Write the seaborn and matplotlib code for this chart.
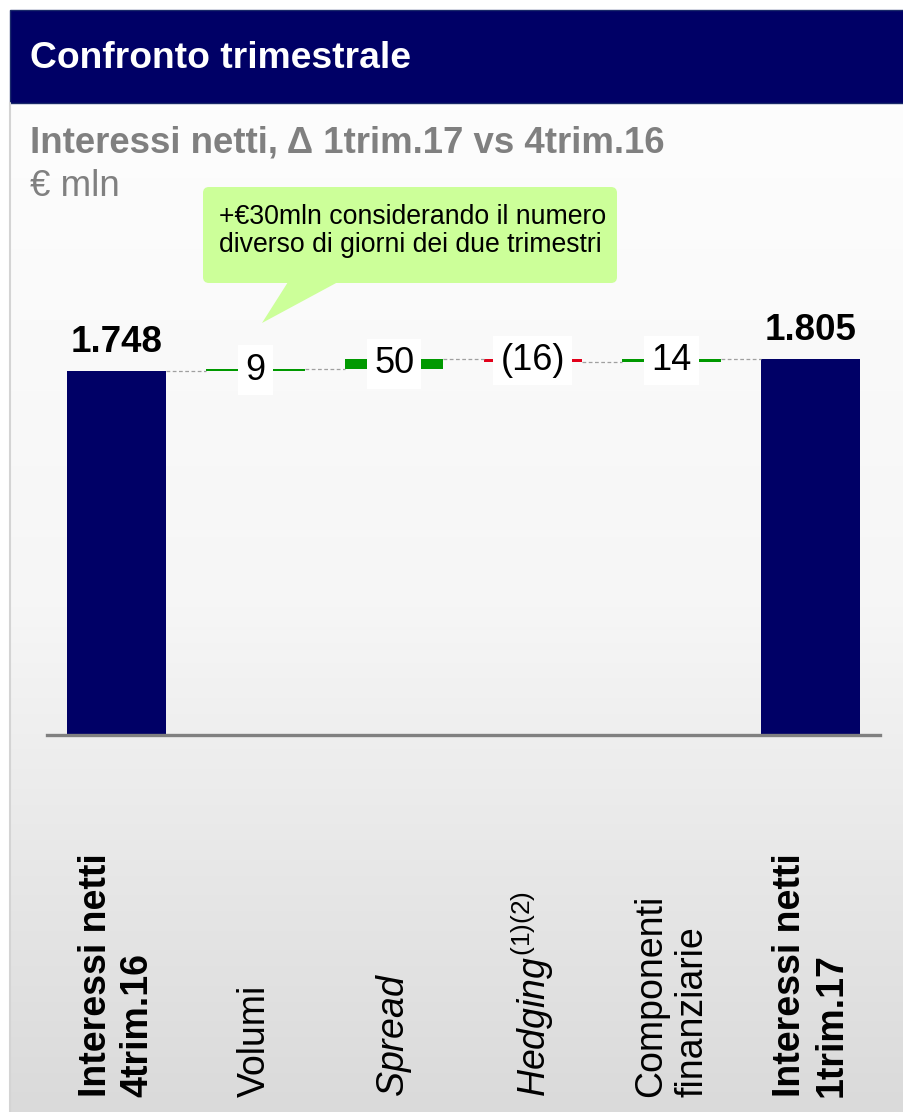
import numpy as np
import pandas as pd
import matplotlib
matplotlib.use("Agg")
import matplotlib.pyplot as plt
import seaborn as sns
from matplotlib.patches import Rectangle, FancyBboxPatch, Polygon
from matplotlib.transforms import blended_transform_factory

# ---- data -------------------------------------------------------------
categories = ["Interessi netti 4trim.16", "Volumi", "Spread", "Hedging",
              "Componenti finanziarie", "Interessi netti 1trim.17"]
tick_labels = ["Interessi netti\n4trim.16", "Volumi", r"$\mathit{Spread}$",
               r"$\mathit{Hedging}^{(1)(2)}$", "Componenti\nfinanziarie",
               "Interessi netti\n1trim.17"]
values = [1748, 9, 50, -16, 14, 1805]
kinds = ["total", "delta", "delta", "delta", "delta", "total"]
value_labels = ["1.748", "9", "50", "(16)", "14", "1.805"]
note_text = "+€30mln considerando il numero\ndiverso di giorni dei due trimestri"

NAVY = "#000066"
GREEN = "#009900"
RED = "#e2001a"
GREY = "#808080"

# ---- waterfall geometry ------------------------------------------------
bottoms, heights, levels = [], [], []
running = 0
for v, k in zip(values, kinds):
    if k == "total":
        bottoms.append(0)
        heights.append(v)
        running = v
    else:
        bottoms.append(running)
        heights.append(v)
        running += v
    levels.append(running)

colors = [NAVY if k == "total" else (GREEN if v >= 0 else RED)
          for v, k in zip(values, kinds)]
df = pd.DataFrame({"category": categories, "height": heights})

# ---- style -------------------------------------------------------------
sns.set_style("white")
plt.rcParams["font.family"] = ["Liberation Sans", "DejaVu Sans"]
plt.rcParams["mathtext.fontset"] = "custom"
plt.rcParams["mathtext.rm"] = "Liberation Sans"
plt.rcParams["mathtext.it"] = "Liberation Sans:italic"
plt.rcParams["mathtext.bf"] = "Liberation Sans:bold"

W, H = 904, 1112
fig = plt.figure(figsize=(W / 100, H / 100), dpi=100)
fig.patch.set_facecolor("white")

# background layer in pixel coordinates
bg = fig.add_axes([0, 0, 1, 1], zorder=0)
bg.set_xlim(0, W)
bg.set_ylim(H, 0)
bg.axis("off")
grad = np.linspace(0, 1, 256).reshape(-1, 1)
cmap = matplotlib.colors.LinearSegmentedColormap.from_list("panel", ["#fdfdfd", "#f6f6f6", "#dadada"])
bg.imshow(grad, cmap=cmap, extent=(10, W, H, 103), aspect="auto", zorder=0)
bg.add_patch(Rectangle((10, 10), W - 10, 93, facecolor=NAVY, edgecolor="#1a2a6a", lw=1, zorder=1))
bg.plot([10.5, 10.5], [103, H], color="#d4d4d4", lw=1.5, zorder=1)
bg.text(30, 58, "Confronto trimestrale", color="white", fontsize=26.8,
        fontweight="bold", va="center", ha="left")
bg.text(30, 143, "Interessi netti, Δ 1trim.17 vs 4trim.16", color=GREY,
        fontsize=26.4, fontweight="bold", va="center", ha="left")
bg.text(30, 187, "€ mln", color=GREY, fontsize=26.5, va="center", ha="left")

# ---- chart axes ----------------------------------------------------------
base_px, top_px = 735, 200
left_px, right_px = 47, 880
px_per_unit = (735 - 371) / 1748
ax = fig.add_axes([left_px / W, (H - base_px) / H,
                   (right_px - left_px) / W, (base_px - top_px) / H], zorder=2)
ax.patch.set_alpha(0)

bar_w = 0.71
sns.barplot(data=df, x="category", y="height", order=categories,
            bottom=bottoms, width=bar_w, color=NAVY, errorbar=None,
            linewidth=0, ax=ax)
for patch, c in zip(ax.patches, colors):
    patch.set_facecolor(c)
    patch.set_edgecolor(c)
    patch.set_linewidth(0)

ax.set_xlim(-0.5, 5.5)
ax.set_ylim(0, (base_px - top_px) / px_per_unit)

# dashed connectors between consecutive bars
for i in range(len(values) - 1):
    ax.plot([i + bar_w / 2, i + 1 - bar_w / 2], [levels[i], levels[i]],
            color="#a0a0a0", lw=0.9, dashes=(3, 2), zorder=1)

# value labels
for i, (v, k, lab) in enumerate(zip(values, kinds, value_labels)):
    if k == "total":
        ax.annotate(lab, (i, v), xytext=(0, 8), textcoords="offset points",
                    ha="center", va="bottom", fontsize=26.5, fontweight="bold",
                    color="black", zorder=4)
    else:
        ax.text(i, bottoms[i] + v / 2, lab, ha="center", va="center",
                fontsize=26, color="black", zorder=4,
                bbox=dict(boxstyle="square,pad=0.2", facecolor="white",
                          edgecolor="none"))

sns.despine(ax=ax, left=True, top=True, right=True, bottom=False)
ax.spines["bottom"].set_color(GREY)
ax.spines["bottom"].set_linewidth(2.4)
ax.set_xticks(range(len(categories)))
ax.set_xticklabels([])
ax.tick_params(axis="x", length=0)
ax.set_yticks([])
ax.set_xlabel("")
ax.set_ylabel("")

# rotated category labels anchored at a common bottom line
lab_tr = blended_transform_factory(ax.transData, bg.transData)
for i, lab in enumerate(tick_labels):
    bold = kinds[i] == "total"
    ax.text(i, 1097, lab, transform=lab_tr, rotation=90, ha="center",
            va="bottom", multialignment="left", fontsize=27,
            fontweight="bold" if bold else "normal", linespacing=1.2,
            color="black", clip_on=False)

# ---- callout -------------------------------------------------------------
top = fig.add_axes([0, 0, 1, 1], zorder=3)
top.set_xlim(0, W)
top.set_ylim(H, 0)
top.axis("off")
top.patch.set_alpha(0)
top.add_patch(FancyBboxPatch((203, 187), 414, 96,
                             boxstyle="round,pad=0,rounding_size=6",
                             facecolor="#ccff99", edgecolor="none"))
top.add_patch(Polygon([(288, 282), (338, 282), (262, 323)], closed=True,
                      facecolor="#ccff99", edgecolor="none"))
top.text(219, 231, note_text, fontsize=19.2, color="black", ha="left",
         va="center", linespacing=1.1)

fig.savefig("out.png", dpi=100)
